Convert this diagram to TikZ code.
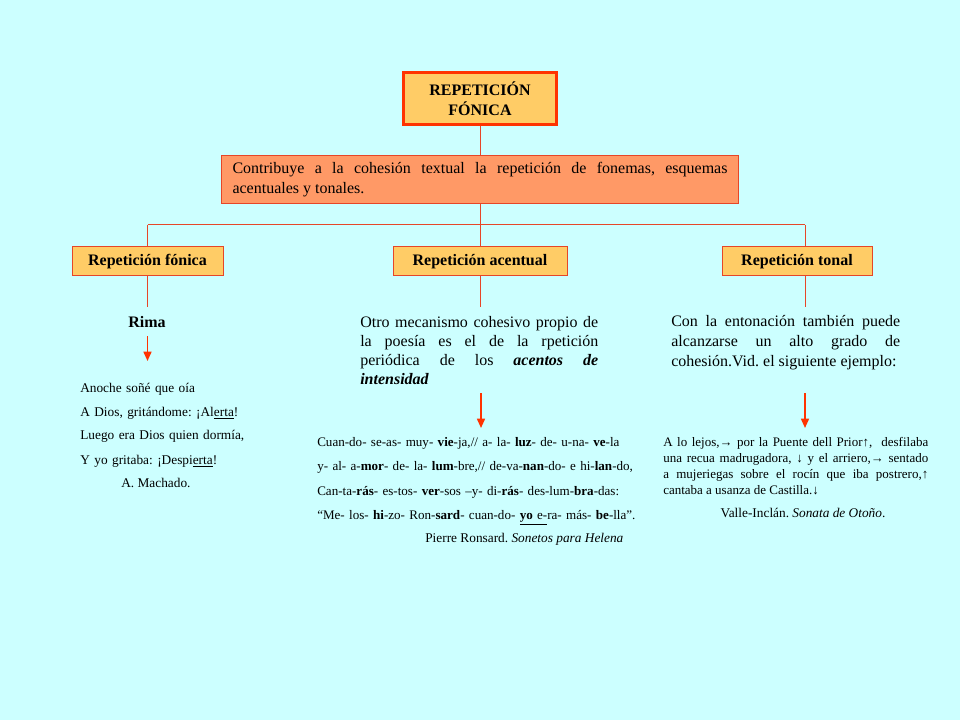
\documentclass[tikz,border=0pt]{standalone}
\usepackage{fontspec}
\setmainfont{Liberation Serif}
\usetikzlibrary{arrows.meta}
\frenchspacing
\definecolor{fondo}{RGB}{204, 255, 255}
\definecolor{oro}{RGB}{255, 204, 102}
\definecolor{salm}{RGB}{255, 153, 102}
\definecolor{borde}{RGB}{255, 51, 0}
\definecolor{linea}{RGB}{230, 70, 40}
\tikzset{
  caja/.style={draw=linea, fill=oro, line width=0.75pt, inner sep=0pt,
    font=\fontsize{12}{15}\selectfont\bfseries},
  texto/.style={anchor=base west, inner sep=0pt, align=justify},
  verso/.style={anchor=base west, inner sep=0pt, align=left},
  rama/.style={color=linea, line width=0.75pt},
  flecha/.style={color=borde, line width=1.2pt, -{Triangle[width=6pt,length=7pt]}}
}
\begin{document}
\begin{tikzpicture}[x=0.75pt, y=-0.75pt]
      \fill[fondo] (0, 0) rectangle (960, 720);
      % cabecera
      \node[caja, draw=borde, line width=2.25pt, minimum width=114.75pt, minimum height=39pt, align=center] (tit) at (480, 99) {REPETICIÓN\\FÓNICA};
      \node[caja, fill=salm, font=\fontsize{12}{15}\selectfont, minimum width=387.75pt, minimum height=36pt, text width=371.25pt, align=justify] (desc) at (480, 180) {Contribuye a la cohesión textual la repetición de fonemas, esquemas\linebreak acentuales y tonales.};
      \node[caja, minimum width=113.25pt, minimum height=21.75pt] (fon) at (147.5, 261.5) {Repetición fónica};
      \node[caja, minimum width=130.5pt, minimum height=21.75pt] (acen) at (480, 261.5) {Repetición acentual};
      \node[caja, minimum width=112.5pt, minimum height=21.75pt] (ton) at (797, 261.5) {Repetición tonal};
      \coordinate (j) at (480, 225);
      \coordinate (jl) at (147.5, 225);
      \coordinate (jr) at (805, 225);
      \draw[rama] (tit) -- (desc);
      \draw[rama] (desc) -- (j);
      \draw[rama] (jl) -- (jr);
      \draw[rama] (jl) -- (fon);
      \draw[rama] (j) -- (acen);
      \draw[rama] (jr) -- (jr |- ton.north);
      \coordinate (b1) at (147.5, 307);
      \coordinate (b2) at (480, 307);
      \coordinate (b3) at (805, 307);
      \draw[rama] (fon) -- (b1);
      \draw[rama] (acen) -- (b2);
      \draw[rama] (b3 |- ton.south) -- (b3);
      % textos
      \node[anchor=base, inner sep=0pt, font=\fontsize{12}{15}\selectfont\bfseries] (rima) at (147, 327) {Rima};
      \node[texto, text width=178.5pt, font=\fontsize{12}{14.5}\selectfont] (otro) at (360, 327) {Otro mecanismo cohesivo propio de\linebreak la poesía es el de la rpetición\linebreak periódica de los \textbf{\textit{acentos de}}\linebreak \textbf{\textit{intensidad}}};
      \node[texto, text width=171.75pt, font=\fontsize{12}{15}\selectfont] (ento) at (671, 326) {Con la entonación también puede\linebreak alcanzarse un alto grado de\linebreak \mbox{cohesión.Vid. el siguiente ejemplo:}};
      % flechas
      \coordinate (f1a) at (147.5, 336);
      \coordinate (f1b) at (147.5, 361);
      \coordinate (f2a) at (481, 393);
      \coordinate (f2b) at (481, 428);
      \coordinate (f3a) at (805, 393);
      \coordinate (f3b) at (805, 428);
      \draw[flecha] (f1a) -- (f1b);
      \draw[flecha] (f2a) -- (f2b);
      \draw[flecha] (f3a) -- (f3b);
      % ejemplos
      \node[verso, text width=200pt, font=\fontsize{10}{18}\selectfont] (poe1) at (80, 392) {Anoche soñé que oía\\A Dios, gritándome: ¡Al\underline{erta}!\\Luego era Dios quien dormía,\\Y yo gritaba: ¡Despi\underline{erta}!};
      \node[verso, font=\fontsize{10}{12}\selectfont] (mach) at (121, 487) {A. Machado.};
      \node[verso, text width=260pt, font=\fontsize{9.8}{18.4}\selectfont] (poe2) at (317, 446) {Cuan-do- se-as- muy- \textbf{vie}-ja,// a- la- \textbf{luz}- de- u-na- \textbf{ve}-la\\y- al- a-\textbf{mor}- de- la- \textbf{lum}-bre,// de-va-\textbf{nan}-do- e hi-\textbf{lan}-do,\\Can-ta-\textbf{rás}- es-tos- \textbf{ver}-sos –y- di-\textbf{rás}- des-lum-\textbf{bra}-das:\\“Me- los- \textbf{hi}-zo- Ron-\textbf{sard}- cuan-do- \underline{\textbf{yo} e-}ra- más- \textbf{be}-lla”.};
      \node[verso, font=\fontsize{10}{12}\selectfont] (rons) at (425, 542) {Pierre Ronsard. \textit{Sonetos para Helena}};
      \node[texto, text width=198.75pt, font=\fontsize{9.75}{12}\selectfont] (poe3) at (663, 446) {A lo lejos,→ por la Puente dell Prior↑,~ desfilaba\linebreak una recua madrugadora, ↓ y el arriero,→ sentado\linebreak a mujeriegas sobre el rocín que iba postrero,↑\linebreak cantaba a usanza de Castilla.↓};
      \node[anchor=base, inner sep=0pt, font=\fontsize{10}{12}\selectfont] (valle) at (803, 517) {Valle-Inclán. \textit{Sonata de Otoño}.};
    \end{tikzpicture}
\end{document}
